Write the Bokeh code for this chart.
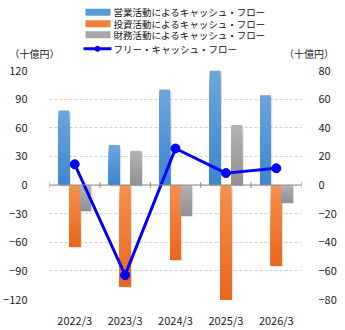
import numpy as np
from bokeh.plotting import figure
from bokeh.models import (FactorRange, Range1d, LinearAxis, FixedTicker, Span, ColumnDataSource)
from bokeh.core.properties import value
from bokeh.transform import dodge
from bokeh.embed import file_html
from bokeh.resources import INLINE

years = ["2022/3", "2023/3", "2024/3", "2025/3", "2026/3"]
operating = [78, 42, 100, 123, 94]
investing = [-65, -106, -78, -125, -84]
financing = [-27, 36, -32, 63, -18]
fcf = [14.5, -63, 25.5, 8.3, 11.7]
left_ticks = [-120, -90, -60, -30, 0, 30, 60, 90, 120]
right_ticks = [-80, -60, -40, -20, 0, 20, 40, 60, 80]
names = ["営業活動によるキャッシュ・フロー", "投資活動によるキャッシュ・フロー",
         "財務活動によるキャッシュ・フロー", "フリー・キャッシュ・フロー"]
unit = "（十億円）"

FONT = "Noto Sans CJK JP"
YMIN, YMAX = -120, 120
RMIN, RMAX = -80, 80
W = 345
TOP_H = 60

# ---------------- header (legend + unit labels) ----------------
h = figure(width=W, height=TOP_H, x_range=Range1d(0, W), y_range=Range1d(TOP_H, 0),
           output_backend="svg", toolbar_location=None,
           x_axis_location=None, y_axis_location=None,
           min_border_left=0, min_border_right=0, min_border_top=0, min_border_bottom=0)
h.outline_line_color = None
h.xgrid.visible = False
h.ygrid.visible = False

leg_cols = ["#5B9BD5", "#F0803A", "#A6A6A6"]
row_y = [11.7, 23.3, 34.3, 48.3]
h.quad(left=[85] * 3, right=[110] * 3,
       top=[y - 3.5 for y in row_y[:3]], bottom=[y + 3.5 for y in row_y[:3]],
       fill_color=leg_cols, line_color=None)
h.line(x=[83, 111], y=[row_y[3]] * 2, line_color="#0000FF", line_width=3)
h.scatter(x=[97], y=[row_y[3]], marker="circle", size=5, fill_color="#0000FF",
          line_color="#0000FF")
h.text(x=[113] * 4, y=row_y, text=names, text_font=value(FONT), text_font_size="9.5px",
       text_baseline="middle", text_align="left", text_color="#111111")
h.text(x=[34, 308.5], y=[53, 53], text=[unit, unit], text_font=value(FONT),
       text_font_size="10px", text_baseline="middle", text_align="center",
       text_color="#222222")

# ---------------- main chart ----------------
p = figure(x_range=FactorRange(*years), y_range=Range1d(YMIN, YMAX),
           width=W, height=330 - TOP_H, output_backend="svg", toolbar_location=None,
           min_border_left=46, min_border_right=44, min_border_top=10, min_border_bottom=28)
p.outline_line_color = None
p.extra_y_ranges = {"right": Range1d(RMIN, RMAX)}

p.xgrid.grid_line_color = None
p.ygrid.ticker = FixedTicker(ticks=left_ticks)
p.ygrid.grid_line_color = "#d0d0d0"
p.ygrid.grid_line_dash = "3 2"
p.ygrid.grid_line_width = 1

def style_axis(ax, standoff):
    ax.axis_line_color = None
    ax.major_tick_line_color = None
    ax.minor_tick_line_color = None
    ax.major_label_standoff = standoff
    ax.major_label_text_font = FONT
    ax.major_label_text_font_size = "11px"
    ax.major_label_text_color = "#222222"

p.yaxis.ticker = FixedTicker(ticks=left_ticks)
style_axis(p.yaxis[0], 16)
rax = LinearAxis(y_range_name="right", ticker=FixedTicker(ticks=right_ticks))
style_axis(rax, 11)
p.add_layout(rax, "right")
style_axis(p.xaxis[0], 6)

# gradient bars (top light -> bottom dark), with faint shadow
N = 30
bar_w = 0.215
series = [
    (operating, -bar_w, ("#6DA6DC", "#3C86CF")),
    (investing, 0.0, ("#F58F50", "#E8671C")),
    (financing, bar_w, ("#B4B4B4", "#909090")),
]

def hex2rgb(hx):
    hx = hx.lstrip("#")
    return np.array([int(hx[i:i + 2], 16) for i in (0, 2, 4)], dtype=float)

def rgb2hex(c):
    return "#%02x%02x%02x" % tuple(int(round(v)) for v in c)

for vals, off, (ctop, cbot) in series:
    clipped_hi = [min(max(v, 0), YMAX) for v in vals]
    clipped_lo = [max(min(v, 0), YMIN) for v in vals]
    sh = ColumnDataSource(dict(x=years, top=[hi - 1.6 for hi in clipped_hi],
                               bottom=[lo - 1.6 for lo in clipped_lo]))
    p.vbar(x=dodge("x", off + 0.03, range=p.x_range), top="top", bottom="bottom",
           width=bar_w, source=sh, fill_color="#000000", fill_alpha=0.12, line_color=None)
    a, b = hex2rgb(ctop), hex2rgb(cbot)
    xs, tops, bots, cols = [], [], [], []
    for k in range(N):
        for yr, hi, lo in zip(years, clipped_hi, clipped_lo):
            xs.append(yr)
            tops.append(hi - (hi - lo) * k / N)
            bots.append(lo)
            cols.append(rgb2hex(a + (b - a) * (k + 0.5) / N))
    src = ColumnDataSource(dict(x=xs, top=tops, bottom=bots, color=cols))
    p.vbar(x=dodge("x", off, range=p.x_range), top="top", bottom="bottom", width=bar_w,
           source=src, fill_color="color", line_color=None)

# zero axis line with ticks at category boundaries
p.add_layout(Span(location=0, dimension="width", line_color="#8c8c8c", line_width=1))
bounds = [float(i) for i in range(len(years) + 1)]
p.segment(x0=bounds, y0=[-3.2] * len(bounds), x1=bounds, y1=[3.2] * len(bounds),
          line_color="#8c8c8c", line_width=1)

# free cash flow line (right axis)
p.line(x=years, y=fcf, y_range_name="right", line_color="#0000FF", line_width=3)
p.scatter(x=years, y=fcf, y_range_name="right", marker="circle", size=9,
          fill_color="#0000FF", line_color="#0000FF")

open("out.html", "w").write(file_html([h, p], INLINE))
